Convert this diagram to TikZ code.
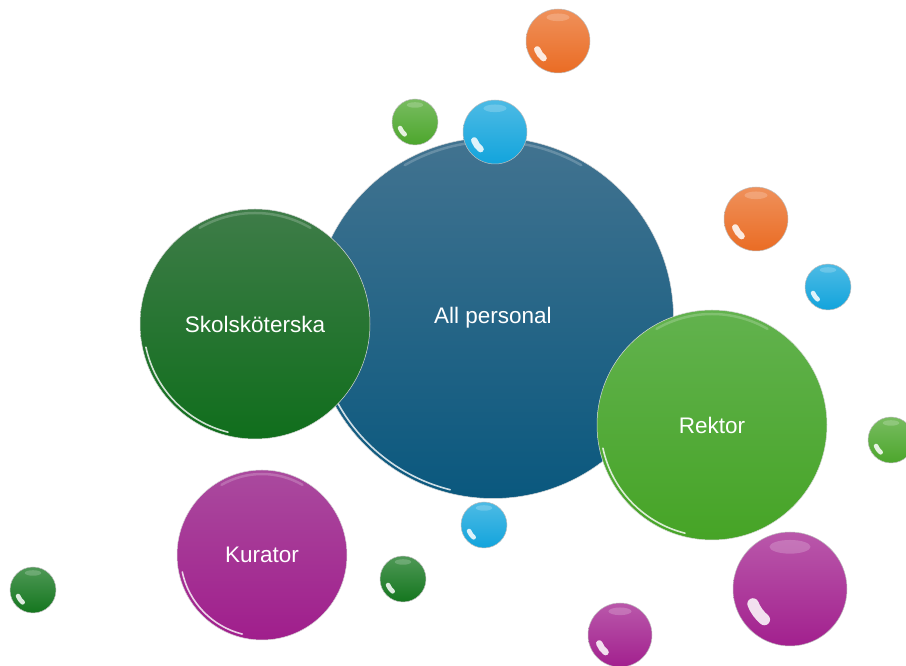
\documentclass[tikz,border=0pt]{standalone}
\usepackage{fontspec}
\setmainfont{Liberation Sans}
\definecolor{alltop}{RGB}{66,115,144}
\definecolor{allbot}{RGB}{10,88,126}
\definecolor{skoltop}{RGB}{62,124,72}
\definecolor{skolbot}{RGB}{16,110,28}
\definecolor{rektop}{RGB}{98,178,78}
\definecolor{rekbot}{RGB}{70,164,38}
\definecolor{kurtop}{RGB}{170,74,158}
\definecolor{kurbot}{RGB}{160,30,140}
\definecolor{ballorange}{RGB}{234,108,36}
\definecolor{ballblue}{RGB}{18,164,220}
\definecolor{balllight}{RGB}{76,166,44}
\definecolor{balldark}{RGB}{20,118,30}
\definecolor{ballmag}{RGB}{162,32,142}
\begin{document}
\begin{tikzpicture}[x=1pt, y=1pt,
    bubble/.style n args={3}{circle, minimum size=2*#1, inner sep=0pt,
      draw=black!15, line width=0.5pt, top color=#2, bottom color=#3,
      text=white, font=\fontsize{22.5}{26}\selectfont,
      path picture={
        \draw[white, opacity=.8, line width=1.6pt, line cap=round]
          ([shift={(192:{#1-3.5pt})}]path picture bounding box.center)
          arc[start angle=192, end angle=256, radius={#1-3.5pt}];
        \draw[white, opacity=.2, line width=2.5pt, line cap=round]
          ([shift={(60:{#1-4pt})}]path picture bounding box.center)
          arc[start angle=60, end angle=120, radius={#1-4pt}];
      }},
    ball/.style 2 args={circle, minimum size=2*#1, inner sep=0pt,
      draw=black!25, line width=0.5pt, top color=#2!75!white, bottom color=#2,
      path picture={
        \draw[white, opacity=.85, line width={0.2*#1}, line cap=round]
          ([shift={(202:{0.7*#1})}]path picture bounding box.center)
          arc[start angle=202, end angle=230, radius={0.7*#1}];
        \fill[white, opacity=.2]
          ([shift={(90:{0.74*#1})}]path picture bounding box.center)
          ellipse[x radius={0.36*#1}, y radius={0.12*#1}];
      }},
  ]
  \clip (0,0) rectangle (906,666);

  % main bubbles
  \node[bubble={180.5pt}{alltop}{allbot}] (all) at (493,348) {All personal\hspace{8pt}};
  \node[bubble={115pt}{skoltop}{skolbot}] (skol) at (255,342) {Skolsköterska};
  \node[bubble={115pt}{rektop}{rekbot}] (rektor) at (712,241) {Rektor};
  \node[bubble={85pt}{kurtop}{kurbot}] (kurator) at (262,111) {Kurator};

  % small balls
  \node[ball={32pt}{ballorange}] (orangetop) at (558,625) {};
  \node[ball={23pt}{balllight}] (greentop) at (415,544) {};
  \node[ball={32pt}{ballblue}] (bluetop) at (495,534) {};
  \node[ball={32pt}{ballorange}] (orangeright) at (756,447) {};
  \node[ball={23pt}{ballblue}] (blueright) at (828,379) {};
  \node[ball={23pt}{balllight}] (greenright) at (891,226) {};
  \node[ball={23pt}{ballblue}] (bluebottom) at (484,141) {};
  \node[ball={23pt}{balldark}] (darkmid) at (403,87) {};
  \node[ball={23pt}{balldark}] (darkleft) at (33,76) {};
  \node[ball={57pt}{ballmag}] (magbig) at (790,77) {};
  \node[ball={32pt}{ballmag}] (magsmall) at (620,31) {};
\end{tikzpicture}
\end{document}
